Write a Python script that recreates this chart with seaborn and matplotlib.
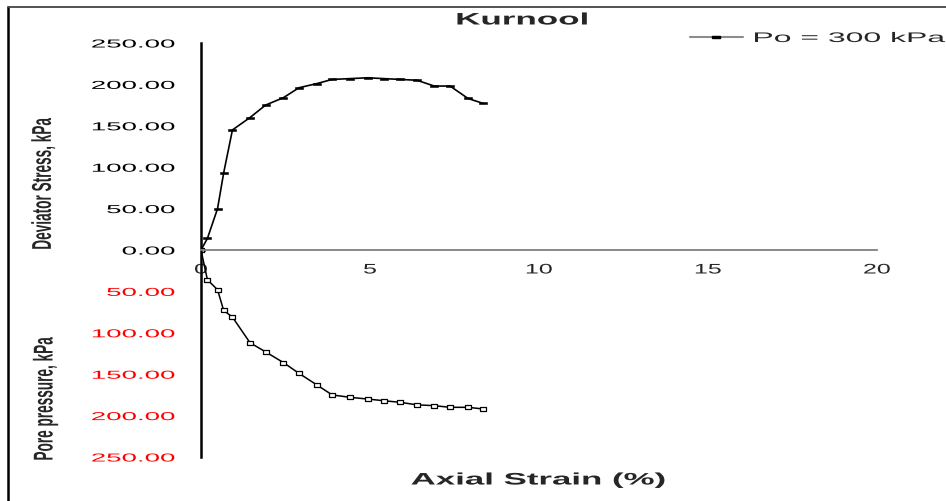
import numpy as np
import seaborn as sb
import matplotlib
matplotlib.use("Agg")
import matplotlib.pyplot as plt
from matplotlib import patheffects
from matplotlib.lines import Line2D
from matplotlib.transforms import Affine2D


# data (Kurnool, Po = 300 kPa)
strain = [0, 0.19, 0.49, 0.67, 0.93, 1.45, 1.91, 2.44, 2.90, 3.43,
          3.88, 4.42, 4.93, 5.40, 5.90, 6.39, 6.90, 7.37, 7.90, 8.35]
deviator_stress = [0, 14, 50, 93, 145, 160, 175, 184, 196, 201,
                   206, 207, 208, 207, 206, 205, 198, 198, 183, 177]
pore_pressure = [0, 36, 48, 73, 81, 112, 123, 136, 149, 163,
                 175, 178, 180, 182, 184, 187, 188, 190, 190, 192]

ytick_values = [-250, -200, -150, -100, -50, 0, 50, 100, 150, 200, 250]
xtick_values = [0, 5, 10, 15, 20]
legend_label = "Po = 300 kPa"


class Stretch(patheffects.AbstractPathEffect):
    # the reference text is drawn wide, so widen glyphs around an anchor
    def __init__(self, sx, anchor="center"):
        super().__init__()
        self.sx = sx
        self.anchor = anchor

    def draw_path(self, renderer, gc, tpath, affine, rgbFace=None):
        box = tpath.get_extents(affine)
        if self.anchor == "left":
            x0 = box.x0
        elif self.anchor == "right":
            x0 = box.x1
        else:
            x0 = (box.x0 + box.x1) / 2
        wide = affine + Affine2D().translate(-x0, 0).scale(self.sx, 1).translate(x0, 0)
        renderer.draw_path(gc, tpath, wide, rgbFace)


sb.set_style("white")
plt.rcParams["font.family"] = ["Liberation Sans", "DejaVu Sans"]

W, H = 946, 502
fig = plt.figure(figsize=(W / 100, H / 100), dpi=100)
ax = fig.add_axes([201 / W, 44 / H, 676 / W, 414 / H])

# markers: small wide rectangles
dev_marker = [(-1, -0.38), (1, -0.38), (1, 0.38), (-1, 0.38), (-1, -0.38)]
pp_marker = [(-1, -0.6), (1, -0.6), (1, 0.6), (-1, 0.6), (-1, -0.6)]

sb.lineplot(x=strain, y=deviator_stress
            , color="black", lw=1.2
            , marker=dev_marker, markersize=5.3
            , markerfacecolor="black", markeredgecolor="black", markeredgewidth=0.4
            , estimator=None, sort=False, ax=ax)

sb.lineplot(x=strain, y=-np.array(pore_pressure)
            , color="black", lw=1.1
            , marker=pp_marker, markersize=4.6
            , markerfacecolor="white", markeredgecolor="black", markeredgewidth=0.9
            , estimator=None, sort=False, ax=ax)

ax.set_xlim(0, 20)
ax.set_ylim(-250, 250)
ax.set_xlabel("")
ax.set_ylabel("")

for side in ["top", "right"]:
    ax.spines[side].set_visible(False)
ax.spines["bottom"].set_position(("data", 0))
ax.spines["bottom"].set_color("#808080")
ax.spines["bottom"].set_linewidth(1.3)
ax.spines["left"].set_color("black")
ax.spines["left"].set_linewidth(1.8)

ax.set_yticks(ytick_values, labels=[f"{abs(v):.2f}" for v in ytick_values])
ax.set_xticks(xtick_values, labels=[str(v) for v in xtick_values])

ax.tick_params(axis="y", direction="out", length=5, width=0.8, color="#555555"
               , pad=13.7, labelsize=8.3)
ax.tick_params(axis="x", direction="out", length=2.5, width=1.0, color="#555555"
               , pad=6.5, labelsize=10)

for v, lab in zip(ytick_values, ax.get_yticklabels()):
    lab.set_color("red" if v < 0 else "black")
    lab.set_path_effects([Stretch(2.4, "right")])
for lab in ax.get_xticklabels():
    lab.set_path_effects([Stretch(1.8, "center")])

# titles and axis names
t = fig.text(522 / W, 1 - 21 / H, "Kurnool", ha="center", va="center"
             , fontsize=12, fontweight="bold")
t.set_path_effects([Stretch(2.1)])

t = fig.text(538 / W, 1 - 481 / H, "Axial Strain (%)", ha="center", va="center"
             , fontsize=12, fontweight="bold")
t.set_path_effects([Stretch(2.09)])

t = fig.text(43 / W, 1 - 185 / H, "Deviator Stress, kPa", ha="center", va="center"
             , rotation=90, fontsize=9.8, fontweight="bold")
t.set_path_effects([Stretch(2.0)])

t = fig.text(45 / W, 1 - 400 / H, "Pore pressure, kPa", ha="center", va="center"
             , rotation=90, fontsize=9.8, fontweight="bold")
t.set_path_effects([Stretch(2.0)])

# legend sits at the top right of the figure and runs off the edge
handle = Line2D([], [], color="#8c8c8c", lw=1.5
                , marker=dev_marker, markersize=5.5
                , markerfacecolor="black", markeredgecolor="black")
leg = fig.legend(handles=[handle], labels=[legend_label]
                 , loc="center left", bbox_to_anchor=(690 / W, 1 - 39 / H)
                 , frameon=False, borderpad=0, borderaxespad=0
                 , handlelength=3.8, handletextpad=0.8, fontsize=10)
for txt in leg.get_texts():
    txt.set_path_effects([Stretch(2.3, "left")])

# outer chart border (only left and top are inside the picture)
fig.add_artist(Line2D([8 / W, 8 / W], [0, 1 - 8 / H], color="black", lw=1.8
                      , transform=fig.transFigure))
fig.add_artist(Line2D([8 / W, 1], [1 - 8 / H, 1 - 8 / H], color="#444444", lw=1.3
                      , transform=fig.transFigure))

fig.savefig("out.png", dpi=100)
plt.close()
